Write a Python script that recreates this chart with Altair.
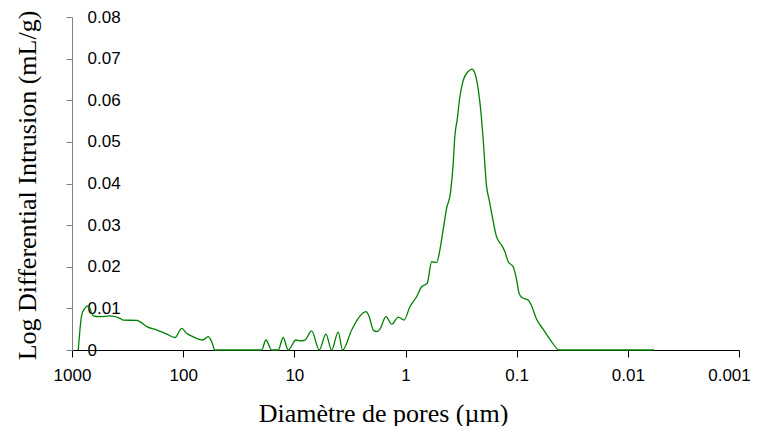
import altair as alt
import pandas as pd

# Pore diameter (µm) and log differential intrusion (mL/g)
diametre = [
    878, 818, 764, 714, 644, 560, 455, 370, 348, 260, 245, 212, 172, 140,
    118.5, 103, 93, 81.7, 66.4, 59.5, 55.4, 51.8,
    19.7, 18.0, 16.0, 13.96, 12.6, 11.35, 9.68, 8.91, 8.03, 6.99, 5.97,
    5.20, 4.62, 4.03, 3.68, 3.05, 2.66, 2.27, 2.12, 1.95, 1.82, 1.70,
    1.50, 1.33, 1.16, 1.03, 0.913, 0.795, 0.716, 0.638, 0.582, 0.525,
    0.491, 0.458, 0.427, 0.393, 0.372, 0.360, 0.343, 0.324, 0.303,
    0.273, 0.251, 0.241, 0.225, 0.210, 0.200, 0.1866, 0.1766, 0.168,
    0.1517, 0.1368, 0.1276, 0.119, 0.1074, 0.100, 0.0950, 0.0897,
    0.0788, 0.0745, 0.0662, 0.0578, 0.0503, 0.0412, 0.0058,
]
intrusion = [
    0.0, 0.0084, 0.0101, 0.0106, 0.0082, 0.0080, 0.0082, 0.0076, 0.0072,
    0.0071, 0.0068, 0.0056, 0.0048, 0.0038, 0.0030, 0.0052, 0.0040,
    0.0032, 0.0024, 0.0032, 0.0020, 0.0,
    0.0, 0.0024, 0.0, 0.0, 0.0030, 0.0, 0.0024, 0.0022, 0.0024, 0.0046,
    0.0, 0.0038, 0.0, 0.0043, 0.0, 0.0048, 0.0076, 0.0092, 0.0080,
    0.0048, 0.0044, 0.0050, 0.0080, 0.0062, 0.0079, 0.0072, 0.0104,
    0.0128, 0.0152, 0.0160, 0.0212, 0.0210, 0.0240, 0.0290, 0.0340,
    0.0380, 0.0449, 0.0513, 0.0553, 0.0609, 0.0647, 0.0669, 0.0675,
    0.0669, 0.0637, 0.0573, 0.0505, 0.0393, 0.0360, 0.0329, 0.0272,
    0.0252, 0.0236, 0.0212, 0.0200, 0.0168, 0.0136, 0.0126, 0.0120,
    0.0110, 0.0074, 0.0050, 0.0026, 0.0, 0.0,
]
x_ticks = [1000, 100, 10, 1, 0.1, 0.01, 0.001]
y_ticks = [0, 0.01, 0.02, 0.03, 0.04, 0.05, 0.06, 0.07, 0.08]

df = pd.DataFrame({"d": diametre, "v": intrusion})

W, H = 667, 333

chart = alt.Chart(df).mark_line(color="#008000", strokeWidth=1.3, interpolate="monotone").encode(
    x=alt.X(
        "d:Q",
        scale=alt.Scale(type="log", domain=[0.001, 1000], reverse=True, nice=False),
        axis=alt.Axis(
            values=x_ticks, format="~g", title="Diamètre de pores (µm)",
            grid=False, domainColor="black", tickColor="black", tickSize=7,
            labelFont="Liberation Sans", labelFontSize=17, labelColor="black",
            labelPadding=10, labelFlush=False, labelOverlap=False,
            labelOffset={"condition": {"test": "datum.value < 0.002", "value": -10}, "value": 0},
            titleFont="Liberation Serif", titleFontSize=26, titleFontWeight="normal",
            titleColor="black", titleX=311, titleY=71, titleBaseline="alphabetic",
            titleAlign="center",
        ),
    ),
    y=alt.Y(
        "v:Q",
        scale=alt.Scale(domain=[0, 0.08], nice=False),
        axis=alt.Axis(
            values=y_ticks, format="~g", title="Log Differential Intrusion (mL/g)",
            grid=False, domainColor="#808080", tickColor="#808080", tickSize=6,
            labelFont="Liberation Sans", labelFontSize=17, labelColor="black",
            labelAlign="left", labelPadding=-21, labelFlush=False, labelOverlap=False,
            titleFont="Liberation Serif", titleFontSize=26, titleFontWeight="normal",
            titleColor="black", titleAngle=270, titleX=-37, titleY=168,
            titleBaseline="alphabetic", titleAlign="center",
        ),
    ),
).properties(
    width=W, height=H,
    padding={"left": 64, "top": 9, "right": 12, "bottom": 76},
    autosize=alt.AutoSizeParams(type="none"),
).configure_view(stroke=None)

chart.save("out.html", embed_options={"renderer": "svg", "actions": False})
